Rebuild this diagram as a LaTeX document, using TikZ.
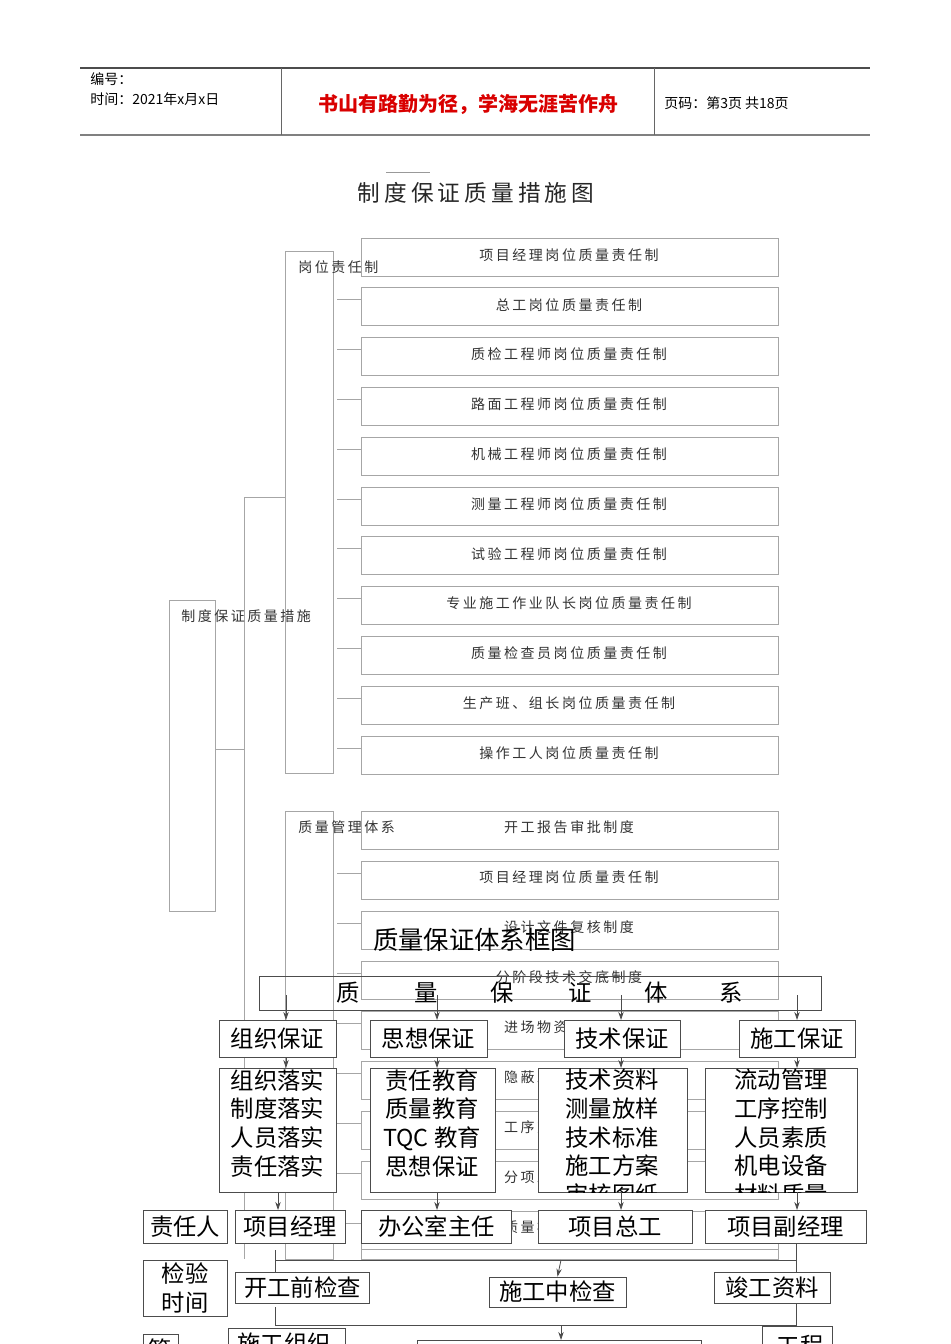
\documentclass[tikz,border=0pt]{standalone}
\usepackage{fontspec}
\setmainfont{Noto Sans CJK SC}
\newfontfamily\cjk{Noto Sans CJK SC}
\newfontfamily\cjksp[LetterSpace=18]{Noto Sans CJK SC}
\usetikzlibrary{arrows.meta}
\begin{document}
\begin{tikzpicture}[x=0.75pt,y=-0.75pt,
  gl/.style={draw=black!35,line width=0.6pt},
  gbox/.style={draw=black!35,line width=0.6pt},
  gtxt/.style={font=\cjksp\fontsize{10.5}{12}\selectfont,text=black!80},
  bl/.style={draw=black!70,line width=0.6pt},
  bbox/.style={draw=black!70,fill=white,line width=0.6pt},
  btxt/.style={font=\cjk\fontsize{17.5}{21.5}\selectfont,text=black,align=center,inner sep=0pt},
  arr/.style={bl,-{Stealth[length=6pt,width=4pt]}}]
\useasboundingbox (0,0) rectangle (950,1344);
\fill[white] (0,0) rectangle (950,1344);
% header
\draw[black!70,line width=0.8pt] (80,68) -- (870,68);
\draw[black!50,line width=1.2pt] (80,135) -- (870,135);
\draw[black!60] (281,68) -- (281,135) (654,68) -- (654,135);
\node[anchor=west,font=\cjk\fontsize{10.5}{12}\selectfont,inner sep=0pt] (h1) at (90,79) {编号：};
\node[anchor=west,font=\cjk\fontsize{10.5}{12}\selectfont,inner sep=0pt] (h2) at (90,99) {时间：2021年x月x日};
\node[font=\cjk\bfseries\fontsize{15}{18}\selectfont,text=red!85!black] (h3) at (468,104) {书山有路勤为径，学海无涯苦作舟};
\node[anchor=west,font=\cjk\fontsize{10.5}{12}\selectfont,inner sep=0pt] (h4) at (664,103) {页码：第3页 共18页};
\draw[black!40] (386,172) -- (430,172);
\node[font=\cjksp\fontsize{17}{20}\selectfont,text=black!85] (t1) at (476,193) {制度保证质量措施图};
% first diagram
\draw[gl] (244,497) -- (244,1259) (244,497) -- (285,497) (215,749) -- (244,749);
\draw[gbox] (169,600) rectangle (215,911);
\node[gtxt,anchor=west,inner sep=0pt] (m) at (181,616) {制度保证质量措施};
\draw[gbox] (285,251) rectangle (333,773);
\node[gtxt,anchor=west,inner sep=0pt] (g1) at (298,267) {岗位责任制};
\foreach \t [count=\i from 0] in {项目经理岗位质量责任制,总工岗位质量责任制,质检工程师岗位质量责任制,路面工程师岗位质量责任制,机械工程师岗位质量责任制,测量工程师岗位质量责任制,试验工程师岗位质量责任制,专业施工作业队长岗位质量责任制,质量检查员岗位质量责任制,生产班、组长岗位质量责任制,操作工人岗位质量责任制}{
  \pgfmathsetmacro\yy{238+49.8*\i}
  \draw[gbox] (361,\yy) rectangle (778,\yy+38);
  \node[gtxt] (a\i) at (569,\yy+17) {\t};
  \ifnum\i>0 \draw[gl] (337,\yy+12) -- (361,\yy+12); \fi
}
\draw[gbox] (285,811) rectangle (333,1259);
\node[gtxt,anchor=west,inner sep=0pt] (g2) at (298,827) {质量管理体系};
\foreach \t [count=\i from 0] in {开工报告审批制度,项目经理岗位质量责任制,设计文件复核制度,分阶段技术交底制度,进场物资检验制度,隐蔽工程检查制度,工序交接检查制度,分项工程验收制度,质量检验检查制度}{
  \pgfmathsetmacro\yy{811+50*\i}
  \draw[gbox] (361,\yy) rectangle (778,\yy+38);
  \node[gtxt] (b\i) at (569,\yy+16) {\t};
  \ifnum\i>0 \draw[gl] (337,\yy+12) -- (361,\yy+12); \fi
}
\draw[gl] (361,1249) -- (361,1259) -- (778,1259) -- (778,1249);
% second diagram
\node[font=\cjk\fontsize{19}{22}\selectfont,anchor=west,inner sep=0pt] (t2) at (373,940) {质量保证体系框图};
\draw[bl] (259,976) rectangle (821,1010);
\foreach \c/\x in {质/348,量/426,保/502,证/580,体/656,系/731}{\node[btxt] at (\x,993) {\c};}
\node[bbox,minimum width=87.75pt,minimum height=27.75pt,btxt] (z1) at (277.5,1038.5) {组织保证};
\node[bbox,minimum width=87.75pt,minimum height=27.75pt,btxt] (z2) at (428.5,1038.5) {思想保证};
\node[bbox,minimum width=87pt,minimum height=27.75pt,btxt] (z3) at (622,1038.5) {技术保证};
\node[bbox,minimum width=87pt,minimum height=27.75pt,btxt] (z4) at (797,1038.5) {施工保证};
\foreach \x/\n in {286/z1,437/z2,621/z3,797/z4}{\draw[arr] (\x,995) -- (\x,1020);}
% level 2
\foreach \n/\xa/\xb in {l1/219/336,l2/370/495,l3/538/687,l4/705/857}{
  \draw[bbox] (\xa,1068) rectangle (\xb,1192);
  \coordinate (\n) at ({(\xa+\xb)/2},1068);
}
\begin{scope}
\clip (219,1068) rectangle (857,1192);
\node[btxt,anchor=north] (c1) at (277.5,1069) {组织落实\\制度落实\\人员落实\\责任落实};
\node[btxt,anchor=north] (c2) at (432,1069) {责任教育\\质量教育\\TQC 教育\\思想保证};
\node[btxt,anchor=north] (c3) at (612,1069) {技术资料\\测量放样\\技术标准\\施工方案\\审核图纸};
\node[btxt,anchor=north] (c4) at (781,1069) {流动管理\\工序控制\\人员素质\\机电设备\\材料质量};
\end{scope}
\foreach \x in {286,437,621,797}{\draw[arr] (\x,1057) -- (\x,1068);}
% level 3
\node[bbox,minimum width=63pt,minimum height=24.75pt,btxt] (r0) at (185,1226.5) {责任人};
\node[bbox,minimum width=82.5pt,minimum height=24.75pt,btxt] (r1) at (290,1226.5) {项目经理};
\node[bbox,minimum width=113pt,minimum height=24.75pt,btxt] (r2) at (436.5,1226.5) {办公室主任};
\node[bbox,minimum width=115.5pt,minimum height=24.75pt,btxt] (r3) at (615,1226.5) {项目总工};
\node[bbox,minimum width=120.75pt,minimum height=24.75pt,btxt] (r4) at (785.5,1226.5) {项目副经理};
\foreach \x in {278,437,621,797}{\draw[arr] (\x,1192) -- (\x,1210);}
% level 4
\node[bbox,minimum width=63pt,minimum height=42pt,btxt] (k0) at (185,1288) {检验\\时间};
\node[bbox,minimum width=101pt,minimum height=23.25pt,btxt] (k1) at (302.5,1287.5) {开工前检查};
\node[bbox,minimum width=102.75pt,minimum height=22.5pt,btxt] (k2) at (557.5,1292) {施工中检查};
\node[bbox,minimum width=87pt,minimum height=23.25pt,btxt] (k3) at (772,1287.5) {竣工资料};
\draw[bl] (275,1250) -- (275,1260) -- (796,1260) (796,1243) -- (796,1260);
\draw[bl] (275,1260) -- (275,1272) (796,1260) -- (796,1272);
\draw[arr] (561,1260) -- (k2.north);
% bottom (cut off)
\draw[bl] (275,1307) -- (275,1325) -- (796,1325) -- (796,1303);
\draw[arr] (561,1325) -- (561,1340);
\draw[bl] (143,1334) rectangle (178,1380);
\node[btxt] (n0) at (160,1350) {管};
\draw[bl] (228,1328) rectangle (345,1380);
\node[btxt] (n1) at (284,1344) {施工组织};
\draw[bl] (417,1340) rectangle (701,1380);
\draw[bl] (762,1326) rectangle (832,1380);
\node[btxt] (n3) at (800,1346) {工程};
\end{tikzpicture}
\end{document}
